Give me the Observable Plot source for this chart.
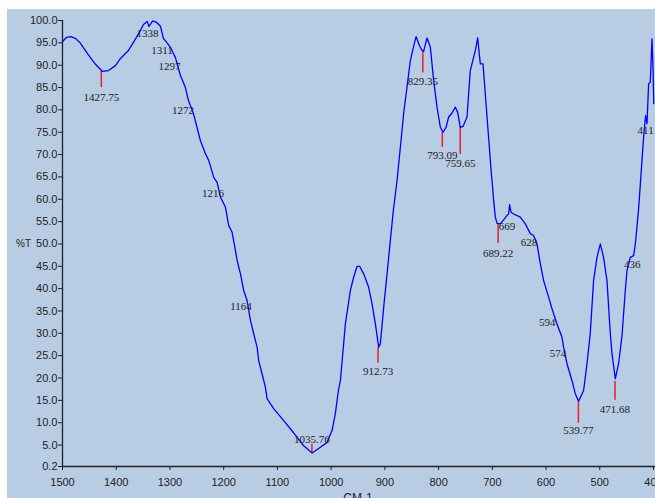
<!DOCTYPE html>
<html>
<head>
<meta charset="utf-8">
<script src="https://cdn.jsdelivr.net/npm/d3@7"></script>
<script src="https://cdn.jsdelivr.net/npm/@observablehq/plot@0.6"></script>
<style>
  html, body { margin: 0; padding: 0; background: #ffffff; width: 655px; height: 498px; overflow: hidden; }
  #panel { position: absolute; left: 7px; top: 9px; width: 648px; height: 489px; background: #b8cce4; overflow: hidden; }
</style>
</head>
<body>
<div id="panel"></div>
<script>
// Spectrum (wavenumber cm-1, %T)
const wavenumber = [1500,1492.6,1485.1,1475.8,1466.5,1453.5,1438.6,1425.6,1414.4,1401.4,1392.1,1377.2,1366.0,1354.9,1349.3,1342.4,1339.1,1332.0,1325.1,1317.7,1312.1,1304.7,1299.1,1289.8,1280.5,1271.2,1265.6,1256.3,1243.3,1233.9,1227.8,1218.5,1212.2,1206.0,1196.7,1190.6,1184.3,1178.1,1175.0,1168.8,1162.7,1156.4,1150.2,1144.1,1137.8,1134.8,1128.5,1122.3,1119.2,1107.4,1091.3,1070.2,1051.6,1035.4,1020.0,1007.5,998.2,992.1,986.5,982.8,973.5,964.2,958.0,951.7,946.9,939.4,930.1,923.8,917.7,911.5,908.4,902.2,895.9,889.8,884.2,877.3,865.0,852.6,846.9,841.9,835.8,830.8,827.8,821.5,815.3,809.2,802.9,796.7,791.7,786.1,781.3,775.0,768.8,764.6,759.5,754.5,747.1,741.0,731.6,727.3,722.3,717.3,711.2,701.8,700.5,697.5,694.4,691.2,685.1,678.9,672.6,669.6,667.8,665.2,660.3,647.9,638.6,629.3,623.2,616.8,610.7,604.5,595.2,588.9,579.6,570.3,567.3,561.0,551.7,545.6,539.4,530.1,523.8,517.7,511.5,505.2,499.0,492.9,486.6,480.4,477.3,471.1,465.0,458.6,452.5,449.3,443.2,437.0,433.8,427.7,421.4,418.4,414.7,412.1,409.1,406.0,402.8,401.0,399.5];
const transmittance = [95.3,96.2,96.4,96.0,94.9,92.6,90.2,88.6,88.8,89.9,91.5,93.3,95.5,97.8,99.1,99.8,98.7,99.9,99.6,98.7,96.0,94.9,94.0,91.7,87.7,85.0,82.1,79.2,73.1,70.2,68.7,64.9,63.8,60.5,58.2,54.1,52.6,48.5,46.3,43.3,39.6,37.3,32.9,29.9,26.9,23.9,20.9,17.9,15.4,13.2,10.9,7.8,4.9,3.2,4.5,5.6,8.3,12.1,17.2,19.4,32.1,39.6,42.6,45.0,45.0,43.3,40.3,36.6,32.1,26.9,27.7,35.8,43.3,50.8,57.5,64.2,79.2,91.0,94.0,96.4,94.4,93.3,93.1,96.1,94.0,86.6,80.6,76.1,75.0,76.1,78.4,79.3,80.6,79.5,76.1,76.3,78.4,88.8,93.3,96.1,90.3,90.3,80.6,65.7,64.2,59.7,56.0,54.6,54.5,55.4,56.4,56.7,58.8,57.1,56.7,56.0,54.5,52.3,51.9,50.0,45.6,41.8,38.1,35.5,32.1,29.1,26.9,23.2,19.4,16.5,14.8,17.2,23.2,30.0,41.8,47.0,50.0,47.0,41.8,30.0,25.5,19.8,23.2,29.5,39.6,44.1,47.0,47.4,50.0,57.9,68.7,73.9,78.7,76.9,85.8,86.2,95.9,89.6,81.4];

// Marked peaks (with red markers)
const peakWn      = [1427.75, 1035.76, 912.73, 829.35, 793.09, 759.65, 689.22, 539.77, 471.68];
const peakText    = ["1427.75","1035.76","912.73","829.35","793.09","759.65","689.22","539.77","471.68"];
const peakCurveT  = [88.6, 3.3, 26.8, 92.9, 75.0, 76.3, 54.6, 14.7, 19.2];
const peakEndT    = [85.0, 5.1, 23.3, 88.3, 71.6, 70.0, 50.1, 9.9, 15.0];
const peakLabelT  = [82.8, 6.2, 21.5, 86.4, 69.8, 68.0, 47.9, 8.3, 13.0];

// Unmarked labels
const minorText = ["1338","1311","1297","1272","1216","1164","669","628","594","574","436","411"];
const minorWn   = [1338, 1311, 1297, 1272, 1216, 1164, 669, 628, 594, 574, 436, 411];
const minorT    = [97.0, 93.4, 89.8, 79.9, 61.4, 36.1, 53.9, 50.4, 32.5, 25.4, 45.3, 75.4];

const xTicks = [1500,1400,1300,1200,1100,1000,900,800,700,600,500,400];
const yTicks = [0.2,5,10,15,20,25,30,35,40,45,50,55,60,65,70,75,80,85,90,95,100];

const spectrum = wavenumber.map((w, i) => ({w, t: transmittance[i]}));
const peaks = peakWn.map((w, i) => ({w, text: peakText[i], top: peakCurveT[i], end: peakEndT[i], ly: peakLabelT[i]}));
const minors = minorWn.map((w, i) => ({w, text: minorText[i], t: minorT[i]}));

const serif = "'Liberation Serif', 'Times New Roman', serif";

const chart = Plot.plot({
  width: 648,
  height: 489,
  marginLeft: 55,
  marginRight: 2,
  marginTop: 11,
  marginBottom: 32,
  style: {background: "transparent", fontFamily: "'Liberation Sans', Arial, sans-serif", fontSize: "11px", color: "#222", overflow: "visible"},
  x: {domain: [1500, 400]},
  y: {domain: [0.2, 100]},
  marks: [
    Plot.axisY({ticks: yTicks, tickSize: 4, tickPadding: 1, tickFormat: d => d.toFixed(1), label: null, stroke: "#222", fill: "#222"}),
    Plot.axisX({ticks: xTicks, tickSize: 4, tickPadding: 8, tickFormat: d => String(d), label: null, stroke: "#222", fill: "#222"}),
    Plot.ruleX([1500], {y1: 0.2, y2: 100, stroke: "#222", strokeWidth: 1.3}),
    Plot.ruleY([0.2], {x1: 1500, x2: 380, stroke: "#222", strokeWidth: 1.3, clip: false}),
    Plot.ruleX(peaks, {x: "w", y1: "top", y2: "end", stroke: "#e8202a", strokeWidth: 1.5}),
    Plot.line(spectrum, {x: "w", y: "t", stroke: "#0000ff", strokeWidth: 1.3}),
    Plot.text(peaks, {x: "w", y: "ly", text: "text", fontFamily: serif, fontSize: 11, fill: "#222"}),
    Plot.text(minors, {x: "w", y: "t", text: "text", dx: -2, fontFamily: serif, fontSize: 11, fill: "#222"}),
    Plot.text(["%T"], {frameAnchor: "left", dx: -39, textAnchor: "middle", fontSize: 10, fill: "#222"}),
    Plot.text(["CM-1"], {frameAnchor: "bottom", dy: 27, lineAnchor: "top", fontSize: 12, fill: "#222"})
  ]
});
document.getElementById("panel").appendChild(chart);
</script>
</body>
</html>
